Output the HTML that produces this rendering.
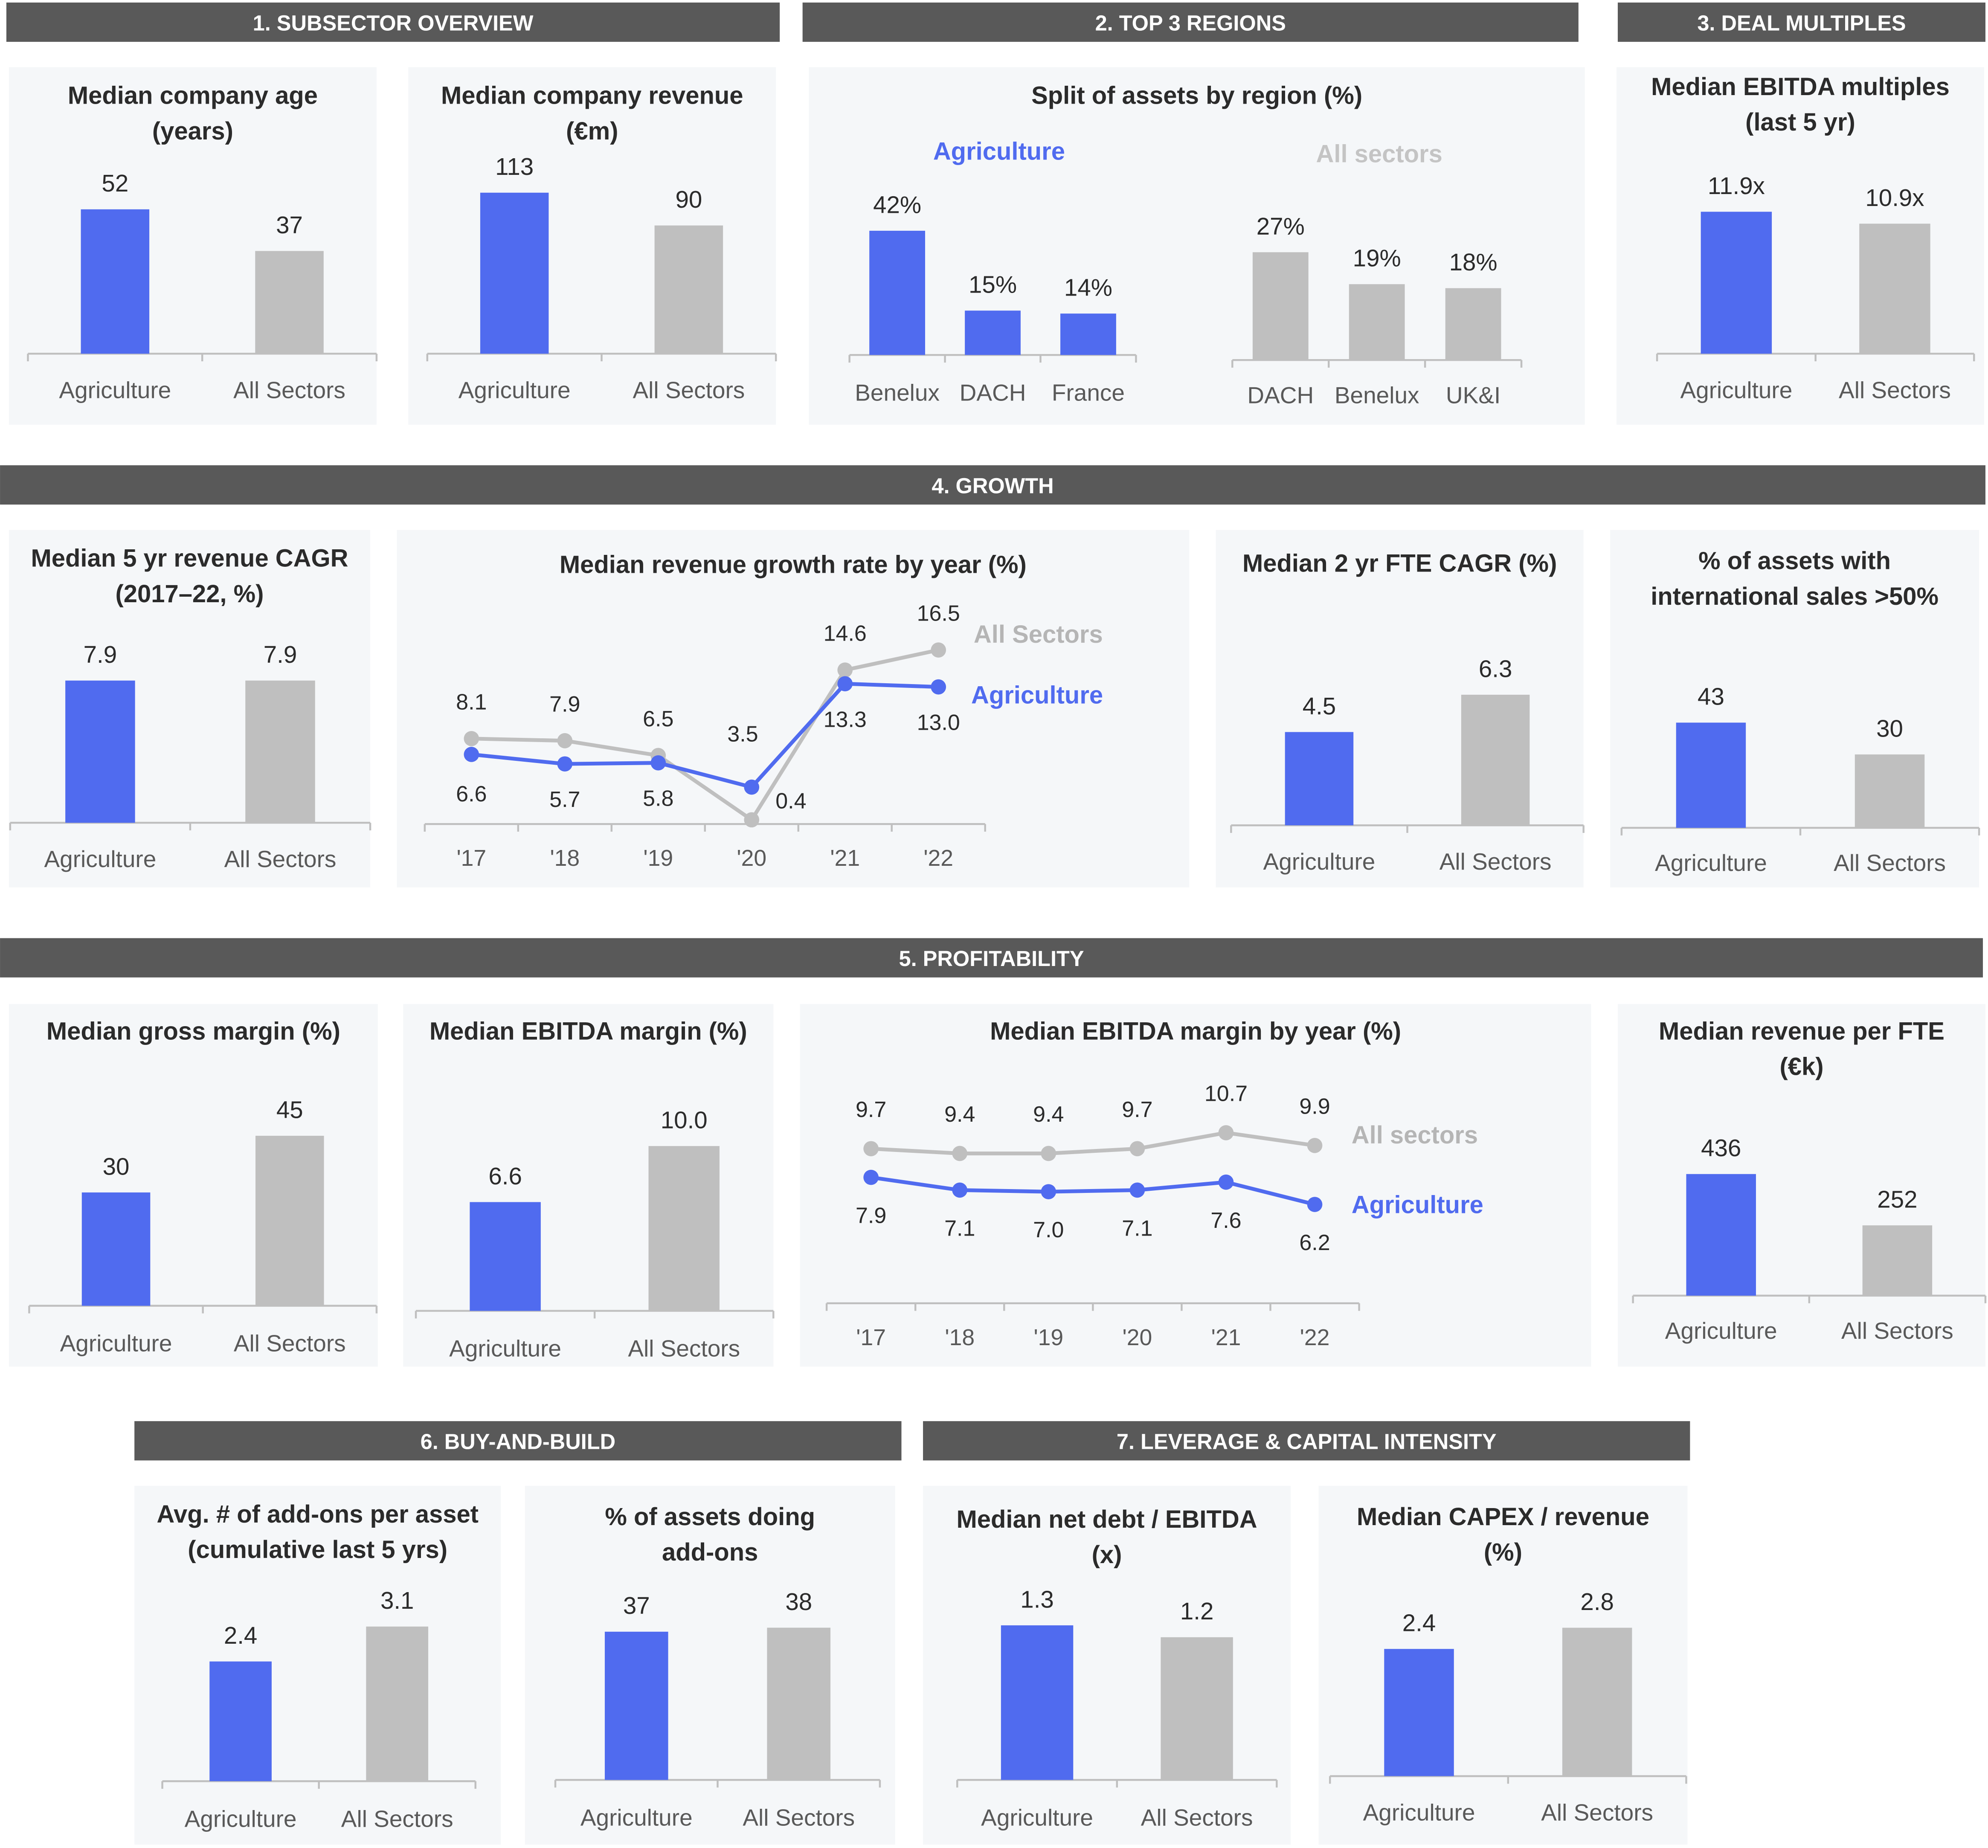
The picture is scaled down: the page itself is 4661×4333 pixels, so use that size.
<!DOCTYPE html>
<html><head><meta charset="utf-8">
<style>
html,body{margin:0;padding:0;background:#fff;}
svg{display:block;}
text{font-family:"Liberation Sans",sans-serif;}
</style></head>
<body>
<svg id="root" xmlns="http://www.w3.org/2000/svg" width="4661" height="4333" viewBox="0 0 1568 1457.7"></svg>
<script>
// ---- data ----
const twoCats = ['Agriculture','All Sectors'];
const ageVals = [52,37];
const revVals = [113,90];
const agriRegionCats = ['Benelux','DACH','France'];
const agriRegionVals = [42,15,14];
const allRegionCats = ['DACH','Benelux','UK&I'];
const allRegionVals = [27,19,18];
const multVals = [11.9,10.9];
const cagrVals = [7.9,7.9];
const yearCats = ["'17","'18","'19","'20","'21","'22"];
const growthAgri = [6.6,5.7,5.8,3.5,13.3,13.0];
const growthAll = [8.1,7.9,6.5,0.4,14.6,16.5];
const fteVals = [4.5,6.3];
const intlVals = [43,30];
const grossVals = [30,45];
const ebitdaVals = [6.6,10.0];
const ebitdaYearAgri = [7.9,7.1,7.0,7.1,7.6,6.2];
const ebitdaYearAll = [9.7,9.4,9.4,9.7,10.7,9.9];
const revFteVals = [436,252];
const addonVals = [2.4,3.1];
const addonPctVals = [37,38];
const debtVals = [1.3,1.2];
const capexVals = [2.4,2.8];

const NS='http://www.w3.org/2000/svg';
const root=document.getElementById('root');
const BLUE='#506bef', GRAY='#bfbfbf', DARK='#2b2b2b', MID='#595959';
function el(tag,attrs,parent,txt){
  const e=document.createElementNS(NS,tag);
  for(const k in attrs) e.setAttribute(k,attrs[k]);
  if(txt!==undefined) e.textContent=txt;
  (parent||root).appendChild(e);return e;
}
function header(x,y,w,label,name){
  const g=el('g',{});
  
  
  el('rect',{x:x,y:y,width:w,height:31,fill:'#595959'},g);
  el('text',{x:x+w/2,y:y+22,'text-anchor':'middle','font-size':17,'font-weight':'bold',fill:'#fff'},g,label);
}
function panel(x,y,w,h,titles,ty,name){
  const g=el('g',{});
  
  
  el('rect',{x:x,y:y,width:w,height:h,fill:'#f5f7f9'},g);
  titles.forEach((t,i)=>{
    const tt=el('text',{x:x+w/2,y:ty+i*28,'text-anchor':'middle','font-size':19.5,'font-weight':'bold',fill:DARK},g,t);
    
    
  });
  return g;
}
// bar chart: c = {g, base, k, centers, bw, colors, ax0, ax1, labelY, fmt}
function bars(g,cats,vals,c){
  const yScale=v=>c.base-v*c.k;
  const ax=el('line',{x1:c.ax0,x2:c.ax1,y1:c.base,y2:c.base,stroke:'#bfbfbf','stroke-width':1.5},g);
  
  
  const n=cats.length, step=(c.ax1-c.ax0)/n;
  for(let i=0;i<=n;i++){
    el('line',{x1:c.ax0+i*step,x2:c.ax0+i*step,y1:c.base,y2:c.base+6,stroke:'#bfbfbf','stroke-width':1.5},g);
  }
  vals.forEach((v,i)=>{
    const cx=c.ax0+step*(i+0.5);
    const y=yScale(v);
    const b=el('rect',{x:cx-c.bw/2,y:y,width:c.bw,height:c.base-y,fill:c.colors[i]},g);
    
    
    const vt=el('text',{x:cx,y:y-14,'text-anchor':'middle','font-size':19,fill:DARK},g,c.fmt?c.fmt(v):String(v));
    
    
    const ct=el('text',{x:cx,y:c.labelY||c.base+35,'text-anchor':'middle','font-size':18.5,fill:MID},g,cats[i]);
    
    
  });
}
function lineChart(g,cats,seriesA,seriesB,c){
  const n=cats.length;
  const step=(c.ax1-c.ax0)/n;
  const xS=i=>c.ax0+step*(i+0.5);
  const yS=v=>c.base-v*c.k;
  const ax=el('line',{x1:c.ax0,x2:c.ax1,y1:c.base,y2:c.base,stroke:'#bfbfbf','stroke-width':1.5},g);
  
  
  for(let i=0;i<=n;i++) el('line',{x1:c.ax0+i*step,x2:c.ax0+i*step,y1:c.base,y2:c.base+6,stroke:'#bfbfbf','stroke-width':1.5},g);
  cats.forEach((t,i)=>{
    const tt=el('text',{x:xS(i),y:c.base+33,'text-anchor':'middle','font-size':18,fill:MID},g,t);
    
    
  });
  [[seriesB,GRAY,'all-sectors-line',c.offB],[seriesA,BLUE,'agriculture-line',c.offA]].forEach(([s,col,nm,off])=>{
    const p=el('polyline',{points:s.map((v,i)=>xS(i)+','+yS(v)).join(' '),fill:'none',stroke:col,'stroke-width':3},g);
    
    
    s.forEach((v,i)=>{
      const d=el('circle',{cx:xS(i),cy:yS(v),r:6,fill:col},g);
      
      
      const o=off(i);
      const lt=el('text',{x:xS(i)+o[0],y:yS(v)+o[1],'text-anchor':'middle','font-size':17.5,fill:DARK},g,v.toFixed(1));
      
      
    });
  });
}
function legendText(g,x,y,t,col,name){
  const tt=el('text',{x:x,y:y,'font-size':19.5,'font-weight':'bold',fill:col},g,t);
  
  
}
const C2=[BLUE,GRAY];

// headers
header(5,2,610,'1. SUBSECTOR OVERVIEW','header-subsector-overview');
header(633,2,612,'2. TOP 3 REGIONS','header-top-regions');
header(1276,2,290,'3. DEAL MULTIPLES','header-deal-multiples');
header(0,367,1566,'4. GROWTH','header-growth');
header(0,740,1564,'5.  PROFITABILITY','header-profitability');
header(106,1121,605,'6. BUY-AND-BUILD','header-buy-and-build');
header(728,1121,605,'7. LEVERAGE & CAPITAL INTENSITY','header-leverage');

// row 1
let g=panel(7,53,290,282,['Median company age','(years)'],82,'panel-company-age');
bars(g,twoCats,ageVals,{base:279,k:2.19,bw:54,colors:C2,ax0:22,ax1:297,labelY:314});
g=panel(322,53,290,282,['Median company revenue','(€m)'],82,'panel-company-revenue');
bars(g,twoCats,revVals,{base:279,k:1.124,bw:54,colors:C2,ax0:337,ax1:612,labelY:314});
g=panel(638,53,612,282,['Split of assets by region (%)'],82,'panel-region-split');
legendText(g,736,126,'Agriculture',BLUE,'legend-agriculture');
legendText(g,1038,128,'All sectors','#c4c4c4','legend-all-sectors');
bars(g,agriRegionCats,agriRegionVals,{base:280,k:2.333,bw:44,colors:[BLUE,BLUE,BLUE],ax0:670,ax1:896,labelY:316,fmt:v=>v+'%'});
bars(g,allRegionCats,allRegionVals,{base:284,k:3.15,bw:44,colors:[GRAY,GRAY,GRAY],ax0:972,ax1:1200,labelY:318,fmt:v=>v+'%'});
g=panel(1275,53,290,282,['Median EBITDA multiples','(last 5 yr)'],75,'panel-ebitda-multiples');
bars(g,twoCats,multVals,{base:279,k:9.41,bw:56,colors:C2,ax0:1307,ax1:1557,labelY:314,fmt:v=>v.toFixed(1)+'x'});

// row 2
g=panel(7,418,285,282,['Median 5 yr revenue CAGR','(2017–22, %)'],447,'panel-revenue-cagr');
bars(g,twoCats,cagrVals,{base:649,k:14.2,bw:55,colors:C2,ax0:8,ax1:292,labelY:684,fmt:v=>v.toFixed(1)});
g=panel(313,418,625,282,['Median revenue growth rate by year (%)'],452,'panel-revenue-growth');
lineChart(g,yearCats,growthAgri,growthAll,{ax0:335,ax1:777,base:650,k:8.32,
  offB:i=>i===3?[31,-9]:[0,-23],
  offA:i=>i===3?[-7,-36]:(i===0?[0,37]:[0,34])});
legendText(g,768,507,'All Sectors','#b5b5b5','legend-all-sectors');
legendText(g,766,555,'Agriculture',BLUE,'legend-agriculture');
g=panel(959,418,290,282,['Median 2 yr FTE CAGR (%)'],451,'panel-fte-cagr');
bars(g,twoCats,fteVals,{base:651,k:16.35,bw:54,colors:C2,ax0:971,ax1:1249,labelY:686,fmt:v=>v.toFixed(1)});
g=panel(1270,418,291,282,['% of assets with','international sales >50%'],449,'panel-international-sales');
bars(g,twoCats,intlVals,{base:653,k:1.93,bw:55,colors:C2,ax0:1279,ax1:1561,labelY:687});

// row 3
g=panel(7,792,291,286,['Median gross margin (%)'],820,'panel-gross-margin');
bars(g,twoCats,grossVals,{base:1030,k:2.98,bw:54,colors:C2,ax0:23,ax1:297,labelY:1066});
g=panel(318,792,292,286,['Median EBITDA margin (%)'],820,'panel-ebitda-margin');
bars(g,twoCats,ebitdaVals,{base:1034,k:13,bw:56,colors:C2,ax0:328,ax1:610,labelY:1070,fmt:v=>v.toFixed(1)});
g=panel(631,792,624,286,['Median EBITDA margin by year (%)'],820,'panel-ebitda-by-year');
lineChart(g,yearCats,ebitdaYearAgri,ebitdaYearAll,{ax0:652,ax1:1072,base:1028,k:12.57,
  offB:i=>[0,-25],offA:i=>[0,36]});
legendText(g,1066,902,'All sectors','#b5b5b5','legend-all-sectors');
legendText(g,1066,957,'Agriculture',BLUE,'legend-agriculture');
g=panel(1276,792,290,286,['Median revenue per FTE','(€k)'],820,'panel-revenue-per-fte');
bars(g,twoCats,revFteVals,{base:1022,k:0.22,bw:55,colors:C2,ax0:1288,ax1:1566,labelY:1056});

// row 4
g=panel(106,1172,289,283,['Avg. # of add-ons per asset','(cumulative last 5 yrs)'],1201,'panel-addons-per-asset');
bars(g,twoCats,addonVals,{base:1405,k:39.35,bw:49,colors:C2,ax0:128,ax1:375,labelY:1441,fmt:v=>v.toFixed(1)});
g=panel(414,1172,292,283,['% of assets doing','add-ons'],1203,'panel-assets-doing-addons');
bars(g,twoCats,addonPctVals,{base:1404,k:3.16,bw:50,colors:C2,ax0:438,ax1:694,labelY:1440});
g=panel(728,1172,290,283,['Median net debt / EBITDA','(x)'],1205,'panel-net-debt');
bars(g,twoCats,debtVals,{base:1404,k:93.8,bw:57,colors:C2,ax0:755,ax1:1007,labelY:1440,fmt:v=>v.toFixed(1)});
g=panel(1040,1172,291,283,['Median CAPEX / revenue','(%)'],1203,'panel-capex');
bars(g,twoCats,capexVals,{base:1401,k:41.8,bw:55,colors:C2,ax0:1049,ax1:1330,labelY:1436,fmt:v=>v.toFixed(1)});
</script>
</body></html>
